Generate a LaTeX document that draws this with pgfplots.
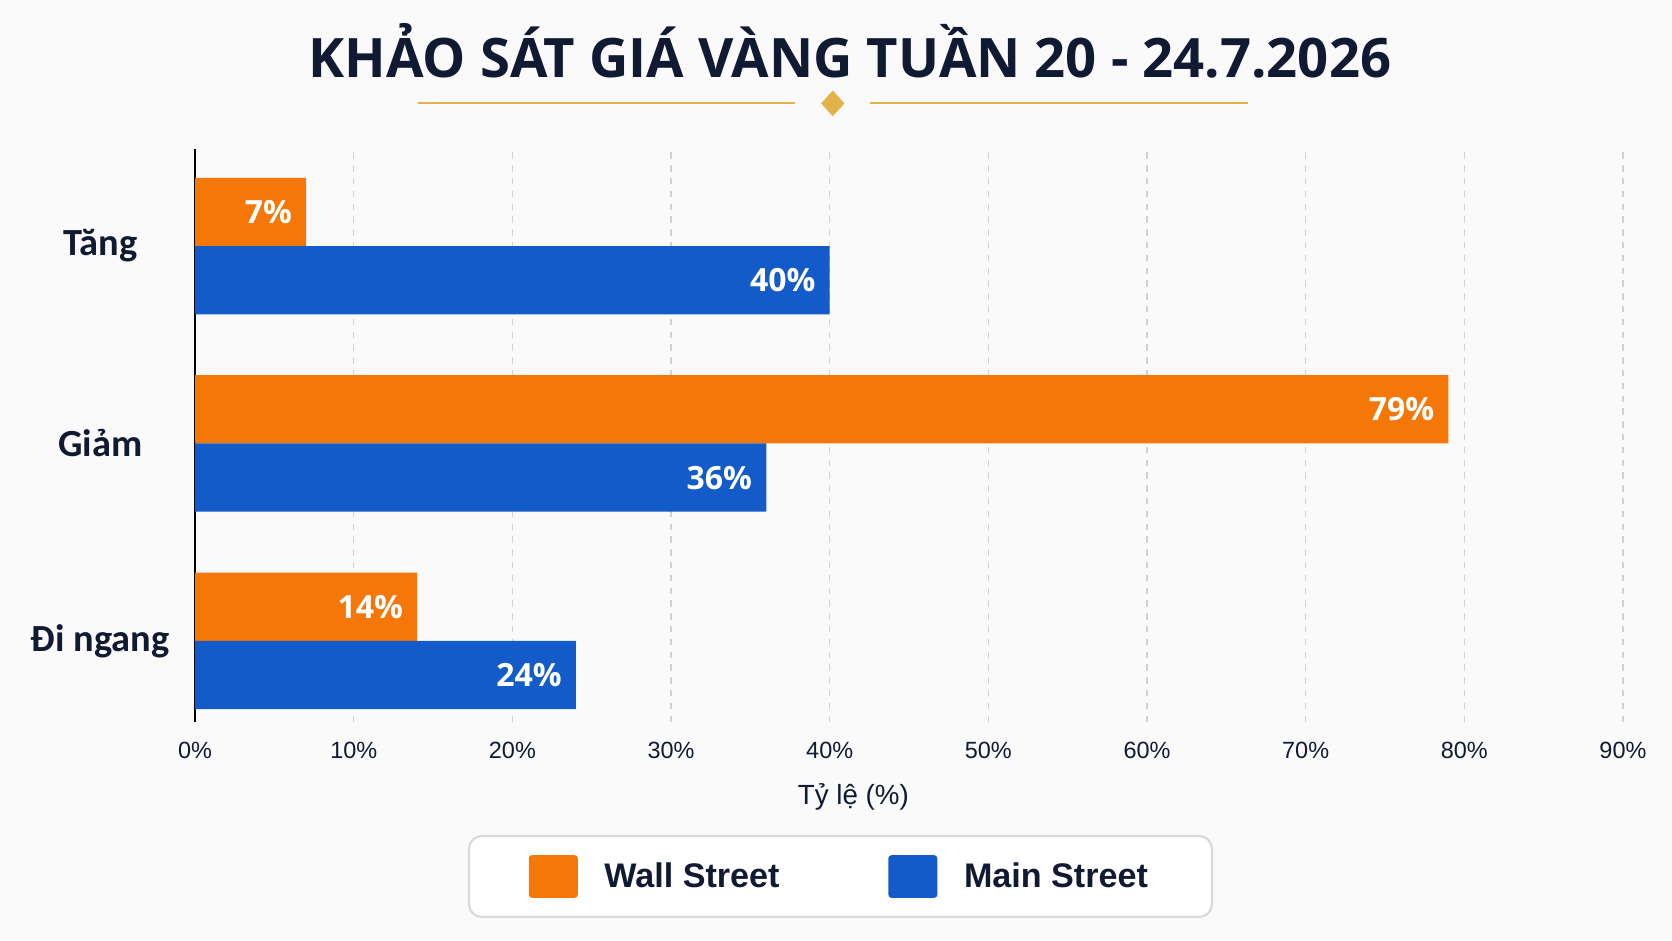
\documentclass[border=0pt]{standalone}
\usepackage{fontspec}
\usepackage{pgfplots}
\pgfplotsset{compat=1.18}
\setmainfont{Liberation Sans}
\newfontfamily\titlefont{Open Sans}
\newfontfamily\catfont{Carlito}
\definecolor{navy}{HTML}{111A33}
\definecolor{wsorange}{HTML}{F57708}
\definecolor{msblue}{HTML}{125BC8}
\definecolor{gold}{HTML}{E3B24A}
\definecolor{bg}{HTML}{FAFAFA}
\begin{document}
\begin{tikzpicture}[x=1pt,y=1pt]
\fill[bg] (0,0) rectangle (784,441);
\path[use as bounding box] (0,0) rectangle (784,441);
\node[font=\titlefont\bfseries\fontsize{25.5}{30}\selectfont, text=navy] at (398.5,417) {KHẢO SÁT GIÁ VÀNG TUẦN 20 - 24.7.2026};
\draw[gold, line width=1pt] (196,392.5) -- (373,392.5);
\draw[gold, line width=1pt] (408,392.5) -- (585,392.5);
\fill[gold] (390.5,398.5) -- (396,392.5) -- (390.5,386.5) -- (385,392.5) -- cycle;
\begin{axis}[
  at={(91.5pt,102.5pt)}, anchor=south west, scale only axis,
  width=669.5pt, height=268.5pt,
  xbar, bar width=32pt,
  xmin=0, xmax=90, ymin=-0.41, ymax=2.49,
  axis lines*=left,
  x axis line style={draw=none},
  y axis line style={-, line width=1pt, black},
  major tick length=0pt,
  xtick={0,10,...,90},
  xticklabel={\pgfmathprintnumber{\tick}\%},
  /pgf/number format/assume math mode=true,
  xticklabel style={font=\fontsize{11}{13}\selectfont, text=navy, yshift=-6pt},
  ytick={0,1,2},
  yticklabels={Đi ngang, Giảm, Tăng},
  yticklabel style={anchor=center, xshift=-44.5pt, font=\catfont\bfseries\fontsize{18}{22}\selectfont, text=navy},
  xmajorgrids,
  grid style={dashed, gray!35, line width=0.6pt},
  xlabel={Tỷ lệ (\%)},
  xlabel style={at={(axis description cs:0.461,-0.1304)}, anchor=center, font=\fontsize{13}{15}\selectfont, text=navy},
  nodes near coords={\pgfmathprintnumber{\pgfplotspointmeta}\%},
  nodes near coords style={anchor=east, xshift=-6.5pt, inner sep=0pt, text=white, font=\titlefont\bfseries\fontsize{15}{18}\selectfont},
  legend columns=2,
  legend image code/.code={\fill[#1, rounded corners=1.5pt] (0pt,-10pt) rectangle (23pt,10pt);},
  legend style={at={(axis description cs:0.452,-0.270)}, anchor=center,
    draw=gray!30, line width=1pt, rounded corners=6pt, fill=white,
    inner xsep=28pt, inner ysep=9pt,
    font=\bfseries\fontsize{16}{20}\selectfont, text=navy,
    /tikz/every odd column/.append style={column sep=10.5pt},
    /tikz/every even column/.append style={column sep=49pt}},
]
\addplot[draw=none, fill=wsorange, bar shift=16pt]
  coordinates {(14,0) (79,1) (7,2)};
\addplot[draw=none, fill=msblue, bar shift=-16pt]
  coordinates {(24,0) (36,1) (40,2)};
\legend{Wall Street, Main Street}
\end{axis}
\end{tikzpicture}
\end{document}
